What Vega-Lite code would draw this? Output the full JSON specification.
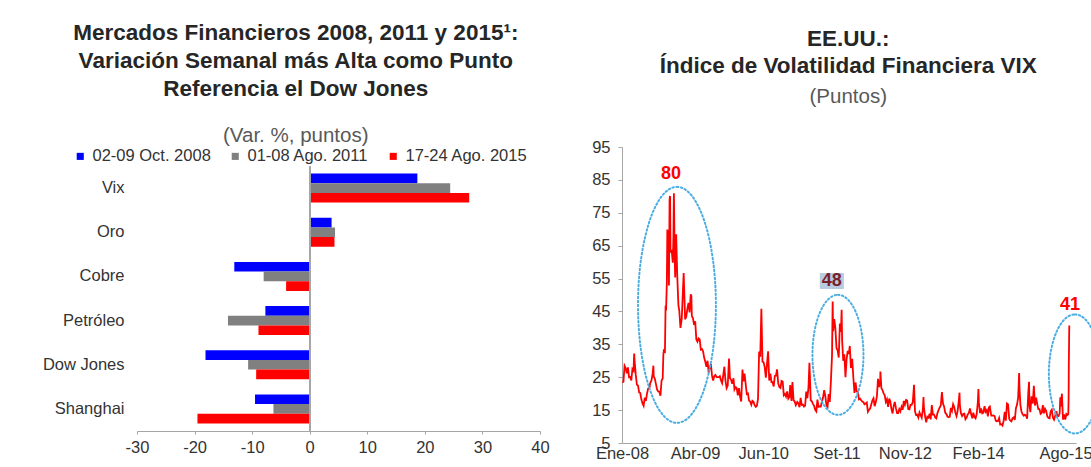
{
  "$schema": "https://vega.github.io/schema/vega-lite/v6.json",
  "background": "white",
  "padding": {"left": 42, "top": 22, "right": 0, "bottom": 0},
  "spacing": 41,
  "config": {
    "view": {"stroke": null},
    "font": "Liberation Sans",
    "axis": {"grid": false, "labelFont": "Liberation Sans", "labelFontSize": 16.5, "labelColor": "#333333", "domainColor": "#A6A6A6", "tickColor": "#A6A6A6", "title": null, "labelOverlap": false},
    "title": {"font": "Liberation Sans", "subtitleFont": "Liberation Sans"}
  },
  "datasets": {
    "barras": [
      {"mercado": "Vix", "periodo": "02-09 Oct. 2008", "valor": 18.7},
      {"mercado": "Vix", "periodo": "01-08 Ago. 2011", "valor": 24.4},
      {"mercado": "Vix", "periodo": "17-24 Ago. 2015", "valor": 27.7},
      {"mercado": "Oro", "periodo": "02-09 Oct. 2008", "valor": 3.8},
      {"mercado": "Oro", "periodo": "01-08 Ago. 2011", "valor": 4.4},
      {"mercado": "Oro", "periodo": "17-24 Ago. 2015", "valor": 4.3},
      {"mercado": "Cobre", "periodo": "02-09 Oct. 2008", "valor": -13.1},
      {"mercado": "Cobre", "periodo": "01-08 Ago. 2011", "valor": -8.0},
      {"mercado": "Cobre", "periodo": "17-24 Ago. 2015", "valor": -4.1},
      {"mercado": "Petróleo", "periodo": "02-09 Oct. 2008", "valor": -7.7},
      {"mercado": "Petróleo", "periodo": "01-08 Ago. 2011", "valor": -14.2},
      {"mercado": "Petróleo", "periodo": "17-24 Ago. 2015", "valor": -8.9},
      {"mercado": "Dow Jones", "periodo": "02-09 Oct. 2008", "valor": -18.1},
      {"mercado": "Dow Jones", "periodo": "01-08 Ago. 2011", "valor": -10.7},
      {"mercado": "Dow Jones", "periodo": "17-24 Ago. 2015", "valor": -9.3},
      {"mercado": "Shanghai", "periodo": "02-09 Oct. 2008", "valor": -9.5},
      {"mercado": "Shanghai", "periodo": "01-08 Ago. 2011", "valor": -6.3},
      {"mercado": "Shanghai", "periodo": "17-24 Ago. 2015", "valor": -19.5}
    ],
    "vix": [
      {"fecha": "2008-01-03", "vix": 23.4}, {"fecha": "2008-01-10", "vix": 23.6}, {"fecha": "2008-01-17", "vix": 28.5}, {"fecha": "2008-01-24", "vix": 27.8}, {"fecha": "2008-01-31", "vix": 26.2},
      {"fecha": "2008-02-07", "vix": 28.0}, {"fecha": "2008-02-14", "vix": 25.0}, {"fecha": "2008-02-21", "vix": 25.1}, {"fecha": "2008-02-28", "vix": 24.0},
      {"fecha": "2008-03-06", "vix": 27.5}, {"fecha": "2008-03-13", "vix": 27.0}, {"fecha": "2008-03-17", "vix": 32.2}, {"fecha": "2008-03-20", "vix": 29.8}, {"fecha": "2008-03-27", "vix": 25.7},
      {"fecha": "2008-04-03", "vix": 22.7}, {"fecha": "2008-04-10", "vix": 22.5}, {"fecha": "2008-04-17", "vix": 20.4}, {"fecha": "2008-04-24", "vix": 20.2},
      {"fecha": "2008-05-01", "vix": 18.2}, {"fecha": "2008-05-08", "vix": 17.0}, {"fecha": "2008-05-15", "vix": 16.3}, {"fecha": "2008-05-22", "vix": 18.8}, {"fecha": "2008-05-29", "vix": 17.8},
      {"fecha": "2008-06-05", "vix": 20.0}, {"fecha": "2008-06-12", "vix": 21.5}, {"fecha": "2008-06-19", "vix": 21.5}, {"fecha": "2008-06-26", "vix": 23.4},
      {"fecha": "2008-07-03", "vix": 24.0}, {"fecha": "2008-07-10", "vix": 26.0}, {"fecha": "2008-07-15", "vix": 28.5}, {"fecha": "2008-07-17", "vix": 25.3}, {"fecha": "2008-07-24", "vix": 24.5}, {"fecha": "2008-07-31", "vix": 22.9},
      {"fecha": "2008-08-07", "vix": 21.2}, {"fecha": "2008-08-14", "vix": 20.7}, {"fecha": "2008-08-21", "vix": 20.6}, {"fecha": "2008-08-28", "vix": 19.4},
      {"fecha": "2008-09-04", "vix": 24.0}, {"fecha": "2008-09-11", "vix": 24.6}, {"fecha": "2008-09-15", "vix": 31.7}, {"fecha": "2008-09-18", "vix": 33.1}, {"fecha": "2008-09-25", "vix": 32.8}, {"fecha": "2008-09-29", "vix": 46.7},
      {"fecha": "2008-10-02", "vix": 45.3}, {"fecha": "2008-10-07", "vix": 53.7}, {"fecha": "2008-10-10", "vix": 69.9}, {"fecha": "2008-10-16", "vix": 67.6}, {"fecha": "2008-10-20", "vix": 52.9}, {"fecha": "2008-10-24", "vix": 79.1}, {"fecha": "2008-10-27", "vix": 80.1}, {"fecha": "2008-10-30", "vix": 62.9},
      {"fecha": "2008-11-06", "vix": 63.7}, {"fecha": "2008-11-13", "vix": 59.8}, {"fecha": "2008-11-17", "vix": 67.6}, {"fecha": "2008-11-20", "vix": 80.9}, {"fecha": "2008-11-25", "vix": 60.9}, {"fecha": "2008-11-28", "vix": 55.3},
      {"fecha": "2008-12-04", "vix": 68.5}, {"fecha": "2008-12-11", "vix": 55.7}, {"fecha": "2008-12-18", "vix": 47.0}, {"fecha": "2008-12-24", "vix": 45.0}, {"fecha": "2008-12-31", "vix": 40.0},
      {"fecha": "2009-01-08", "vix": 42.8}, {"fecha": "2009-01-15", "vix": 51.0}, {"fecha": "2009-01-20", "vix": 56.7}, {"fecha": "2009-01-29", "vix": 42.6},
      {"fecha": "2009-02-05", "vix": 43.4}, {"fecha": "2009-02-12", "vix": 45.8}, {"fecha": "2009-02-19", "vix": 47.6}, {"fecha": "2009-02-26", "vix": 44.7},
      {"fecha": "2009-03-05", "vix": 50.2}, {"fecha": "2009-03-09", "vix": 49.7}, {"fecha": "2009-03-12", "vix": 43.6}, {"fecha": "2009-03-19", "vix": 42.9}, {"fecha": "2009-03-26", "vix": 40.9},
      {"fecha": "2009-04-02", "vix": 42.0}, {"fecha": "2009-04-09", "vix": 36.5}, {"fecha": "2009-04-16", "vix": 35.8}, {"fecha": "2009-04-23", "vix": 36.8}, {"fecha": "2009-04-30", "vix": 36.5},
      {"fecha": "2009-05-07", "vix": 33.4}, {"fecha": "2009-05-14", "vix": 33.6}, {"fecha": "2009-05-21", "vix": 32.9}, {"fecha": "2009-05-28", "vix": 30.9},
      {"fecha": "2009-06-04", "vix": 29.7}, {"fecha": "2009-06-11", "vix": 28.2}, {"fecha": "2009-06-18", "vix": 30.0}, {"fecha": "2009-06-25", "vix": 26.4},
      {"fecha": "2009-07-02", "vix": 27.9}, {"fecha": "2009-07-09", "vix": 29.0}, {"fecha": "2009-07-16", "vix": 25.4}, {"fecha": "2009-07-23", "vix": 24.0}, {"fecha": "2009-07-30", "vix": 25.4},
      {"fecha": "2009-08-06", "vix": 25.7}, {"fecha": "2009-08-13", "vix": 25.0}, {"fecha": "2009-08-20", "vix": 25.0}, {"fecha": "2009-08-27", "vix": 25.0},
      {"fecha": "2009-09-03", "vix": 25.3}, {"fecha": "2009-09-10", "vix": 24.0}, {"fecha": "2009-09-17", "vix": 23.2}, {"fecha": "2009-09-24", "vix": 25.6},
      {"fecha": "2009-10-01", "vix": 28.2}, {"fecha": "2009-10-08", "vix": 23.9}, {"fecha": "2009-10-15", "vix": 21.7}, {"fecha": "2009-10-22", "vix": 22.5}, {"fecha": "2009-10-30", "vix": 30.7},
      {"fecha": "2009-11-05", "vix": 24.7}, {"fecha": "2009-11-12", "vix": 24.2}, {"fecha": "2009-11-19", "vix": 23.0}, {"fecha": "2009-11-27", "vix": 24.7},
      {"fecha": "2009-12-03", "vix": 21.3}, {"fecha": "2009-12-10", "vix": 22.0}, {"fecha": "2009-12-17", "vix": 21.7}, {"fecha": "2009-12-24", "vix": 19.5}, {"fecha": "2009-12-31", "vix": 21.7},
      {"fecha": "2010-01-07", "vix": 19.1}, {"fecha": "2010-01-14", "vix": 17.6}, {"fecha": "2010-01-22", "vix": 27.3}, {"fecha": "2010-01-28", "vix": 23.7},
      {"fecha": "2010-02-04", "vix": 26.1}, {"fecha": "2010-02-11", "vix": 23.0}, {"fecha": "2010-02-18", "vix": 19.9}, {"fecha": "2010-02-25", "vix": 20.1},
      {"fecha": "2010-03-04", "vix": 17.9}, {"fecha": "2010-03-11", "vix": 17.6}, {"fecha": "2010-03-18", "vix": 16.6}, {"fecha": "2010-03-25", "vix": 17.8},
      {"fecha": "2010-04-01", "vix": 17.5}, {"fecha": "2010-04-08", "vix": 16.5}, {"fecha": "2010-04-15", "vix": 16.0}, {"fecha": "2010-04-22", "vix": 16.3}, {"fecha": "2010-04-29", "vix": 18.4},
      {"fecha": "2010-05-06", "vix": 32.8}, {"fecha": "2010-05-13", "vix": 31.2}, {"fecha": "2010-05-20", "vix": 45.8}, {"fecha": "2010-05-27", "vix": 29.7},
      {"fecha": "2010-06-03", "vix": 29.5}, {"fecha": "2010-06-10", "vix": 28.0}, {"fecha": "2010-06-17", "vix": 24.9}, {"fecha": "2010-06-24", "vix": 29.0},
      {"fecha": "2010-07-01", "vix": 32.9}, {"fecha": "2010-07-08", "vix": 24.0}, {"fecha": "2010-07-15", "vix": 26.1}, {"fecha": "2010-07-22", "vix": 23.5}, {"fecha": "2010-07-29", "vix": 23.5},
      {"fecha": "2010-08-05", "vix": 22.2}, {"fecha": "2010-08-12", "vix": 25.4}, {"fecha": "2010-08-19", "vix": 25.5}, {"fecha": "2010-08-26", "vix": 27.4},
      {"fecha": "2010-09-02", "vix": 23.2}, {"fecha": "2010-09-09", "vix": 22.0}, {"fecha": "2010-09-16", "vix": 21.7}, {"fecha": "2010-09-23", "vix": 23.9}, {"fecha": "2010-09-30", "vix": 23.7},
      {"fecha": "2010-10-07", "vix": 19.5}, {"fecha": "2010-10-14", "vix": 19.9}, {"fecha": "2010-10-21", "vix": 19.1}, {"fecha": "2010-10-28", "vix": 20.7},
      {"fecha": "2010-11-04", "vix": 18.5}, {"fecha": "2010-11-11", "vix": 19.0}, {"fecha": "2010-11-16", "vix": 22.6}, {"fecha": "2010-11-24", "vix": 17.8}, {"fecha": "2010-11-30", "vix": 23.5},
      {"fecha": "2010-12-07", "vix": 18.0}, {"fecha": "2010-12-14", "vix": 17.6}, {"fecha": "2010-12-21", "vix": 16.5}, {"fecha": "2010-12-30", "vix": 17.5},
      {"fecha": "2011-01-06", "vix": 17.1}, {"fecha": "2011-01-13", "vix": 15.9}, {"fecha": "2011-01-20", "vix": 18.7}, {"fecha": "2011-01-27", "vix": 16.6},
      {"fecha": "2011-02-03", "vix": 16.7}, {"fecha": "2011-02-10", "vix": 16.1}, {"fecha": "2011-02-17", "vix": 16.4}, {"fecha": "2011-02-24", "vix": 20.6},
      {"fecha": "2011-03-03", "vix": 18.6}, {"fecha": "2011-03-10", "vix": 21.9}, {"fecha": "2011-03-16", "vix": 29.4}, {"fecha": "2011-03-24", "vix": 18.0}, {"fecha": "2011-03-31", "vix": 17.7},
      {"fecha": "2011-04-07", "vix": 16.9}, {"fecha": "2011-04-14", "vix": 16.3}, {"fecha": "2011-04-21", "vix": 15.1}, {"fecha": "2011-04-28", "vix": 14.6},
      {"fecha": "2011-05-05", "vix": 18.2}, {"fecha": "2011-05-12", "vix": 16.0}, {"fecha": "2011-05-19", "vix": 16.1}, {"fecha": "2011-05-26", "vix": 16.1},
      {"fecha": "2011-06-02", "vix": 17.6}, {"fecha": "2011-06-09", "vix": 18.8}, {"fecha": "2011-06-16", "vix": 21.1}, {"fecha": "2011-06-23", "vix": 19.3}, {"fecha": "2011-06-30", "vix": 16.5},
      {"fecha": "2011-07-07", "vix": 15.9}, {"fecha": "2011-07-14", "vix": 19.9}, {"fecha": "2011-07-21", "vix": 17.5}, {"fecha": "2011-07-28", "vix": 23.7},
      {"fecha": "2011-08-04", "vix": 31.7}, {"fecha": "2011-08-08", "vix": 48.0}, {"fecha": "2011-08-11", "vix": 39.0}, {"fecha": "2011-08-18", "vix": 42.7}, {"fecha": "2011-08-25", "vix": 39.8},
      {"fecha": "2011-09-01", "vix": 33.9}, {"fecha": "2011-09-08", "vix": 33.2}, {"fecha": "2011-09-15", "vix": 31.0}, {"fecha": "2011-09-22", "vix": 41.3}, {"fecha": "2011-09-29", "vix": 38.8},
      {"fecha": "2011-10-03", "vix": 45.5}, {"fecha": "2011-10-06", "vix": 36.3}, {"fecha": "2011-10-13", "vix": 30.0}, {"fecha": "2011-10-20", "vix": 32.0}, {"fecha": "2011-10-27", "vix": 25.0},
      {"fecha": "2011-11-03", "vix": 30.5}, {"fecha": "2011-11-10", "vix": 33.0}, {"fecha": "2011-11-17", "vix": 32.1}, {"fecha": "2011-11-23", "vix": 34.5}, {"fecha": "2011-11-30", "vix": 27.8},
      {"fecha": "2011-12-08", "vix": 30.6}, {"fecha": "2011-12-15", "vix": 25.0}, {"fecha": "2011-12-22", "vix": 20.2}, {"fecha": "2011-12-29", "vix": 23.4},
      {"fecha": "2012-01-05", "vix": 20.7}, {"fecha": "2012-01-12", "vix": 20.5}, {"fecha": "2012-01-19", "vix": 18.3}, {"fecha": "2012-01-26", "vix": 18.5},
      {"fecha": "2012-02-02", "vix": 18.0}, {"fecha": "2012-02-09", "vix": 17.6}, {"fecha": "2012-02-16", "vix": 17.4}, {"fecha": "2012-02-23", "vix": 16.8},
      {"fecha": "2012-03-01", "vix": 17.0}, {"fecha": "2012-03-08", "vix": 17.3}, {"fecha": "2012-03-15", "vix": 14.5}, {"fecha": "2012-03-22", "vix": 15.1}, {"fecha": "2012-03-29", "vix": 15.5},
      {"fecha": "2012-04-05", "vix": 16.7}, {"fecha": "2012-04-12", "vix": 18.0}, {"fecha": "2012-04-19", "vix": 18.6}, {"fecha": "2012-04-26", "vix": 16.2},
      {"fecha": "2012-05-03", "vix": 17.4}, {"fecha": "2012-05-10", "vix": 19.1}, {"fecha": "2012-05-17", "vix": 24.5}, {"fecha": "2012-05-24", "vix": 22.0}, {"fecha": "2012-05-31", "vix": 24.1},
      {"fecha": "2012-06-01", "vix": 26.7}, {"fecha": "2012-06-07", "vix": 21.7}, {"fecha": "2012-06-14", "vix": 21.1}, {"fecha": "2012-06-21", "vix": 20.1}, {"fecha": "2012-06-28", "vix": 19.5},
      {"fecha": "2012-07-05", "vix": 17.5}, {"fecha": "2012-07-12", "vix": 18.3}, {"fecha": "2012-07-19", "vix": 16.0}, {"fecha": "2012-07-26", "vix": 18.5},
      {"fecha": "2012-08-02", "vix": 17.6}, {"fecha": "2012-08-09", "vix": 15.3}, {"fecha": "2012-08-16", "vix": 14.0}, {"fecha": "2012-08-23", "vix": 16.3}, {"fecha": "2012-08-30", "vix": 17.5},
      {"fecha": "2012-09-06", "vix": 15.6}, {"fecha": "2012-09-13", "vix": 14.1}, {"fecha": "2012-09-20", "vix": 14.1}, {"fecha": "2012-09-27", "vix": 15.3},
      {"fecha": "2012-10-04", "vix": 14.6}, {"fecha": "2012-10-11", "vix": 16.0}, {"fecha": "2012-10-18", "vix": 15.1}, {"fecha": "2012-10-25", "vix": 17.8},
      {"fecha": "2012-11-01", "vix": 16.7}, {"fecha": "2012-11-08", "vix": 18.1}, {"fecha": "2012-11-15", "vix": 17.9}, {"fecha": "2012-11-22", "vix": 15.3}, {"fecha": "2012-11-29", "vix": 15.2},
      {"fecha": "2012-12-06", "vix": 16.6}, {"fecha": "2012-12-13", "vix": 16.6}, {"fecha": "2012-12-20", "vix": 17.4}, {"fecha": "2012-12-28", "vix": 22.7},
      {"fecha": "2013-01-03", "vix": 14.6}, {"fecha": "2013-01-10", "vix": 13.5}, {"fecha": "2013-01-17", "vix": 13.6}, {"fecha": "2013-01-24", "vix": 12.7}, {"fecha": "2013-01-31", "vix": 14.3},
      {"fecha": "2013-02-07", "vix": 13.5}, {"fecha": "2013-02-14", "vix": 12.7}, {"fecha": "2013-02-21", "vix": 15.2}, {"fecha": "2013-02-25", "vix": 19.0}, {"fecha": "2013-02-28", "vix": 15.5},
      {"fecha": "2013-03-07", "vix": 13.1}, {"fecha": "2013-03-14", "vix": 11.3}, {"fecha": "2013-03-21", "vix": 13.0}, {"fecha": "2013-03-28", "vix": 12.7},
      {"fecha": "2013-04-04", "vix": 13.9}, {"fecha": "2013-04-11", "vix": 12.2}, {"fecha": "2013-04-18", "vix": 16.5}, {"fecha": "2013-04-25", "vix": 13.6},
      {"fecha": "2013-05-02", "vix": 13.6}, {"fecha": "2013-05-09", "vix": 12.8}, {"fecha": "2013-05-16", "vix": 12.5}, {"fecha": "2013-05-23", "vix": 14.1}, {"fecha": "2013-05-30", "vix": 15.0},
      {"fecha": "2013-06-06", "vix": 15.8}, {"fecha": "2013-06-13", "vix": 16.4}, {"fecha": "2013-06-20", "vix": 20.5}, {"fecha": "2013-06-27", "vix": 16.9},
      {"fecha": "2013-07-03", "vix": 16.2}, {"fecha": "2013-07-11", "vix": 14.2}, {"fecha": "2013-07-18", "vix": 13.8}, {"fecha": "2013-07-25", "vix": 13.0},
      {"fecha": "2013-08-01", "vix": 12.9}, {"fecha": "2013-08-08", "vix": 13.0}, {"fecha": "2013-08-15", "vix": 15.7}, {"fecha": "2013-08-22", "vix": 14.8}, {"fecha": "2013-08-29", "vix": 16.8},
      {"fecha": "2013-09-05", "vix": 15.9}, {"fecha": "2013-09-12", "vix": 14.3}, {"fecha": "2013-09-19", "vix": 13.2}, {"fecha": "2013-09-26", "vix": 14.7},
      {"fecha": "2013-10-03", "vix": 17.7}, {"fecha": "2013-10-08", "vix": 20.3}, {"fecha": "2013-10-10", "vix": 16.5}, {"fecha": "2013-10-17", "vix": 14.0}, {"fecha": "2013-10-24", "vix": 13.2}, {"fecha": "2013-10-31", "vix": 13.8},
      {"fecha": "2013-11-07", "vix": 13.9}, {"fecha": "2013-11-14", "vix": 12.2}, {"fecha": "2013-11-21", "vix": 12.7}, {"fecha": "2013-11-28", "vix": 13.7},
      {"fecha": "2013-12-05", "vix": 14.1}, {"fecha": "2013-12-12", "vix": 15.5}, {"fecha": "2013-12-19", "vix": 13.8}, {"fecha": "2013-12-27", "vix": 12.5},
      {"fecha": "2014-01-02", "vix": 14.2}, {"fecha": "2014-01-09", "vix": 12.9}, {"fecha": "2014-01-16", "vix": 12.5}, {"fecha": "2014-01-23", "vix": 13.8}, {"fecha": "2014-01-30", "vix": 17.3},
      {"fecha": "2014-02-03", "vix": 21.4}, {"fecha": "2014-02-06", "vix": 17.2}, {"fecha": "2014-02-13", "vix": 14.1}, {"fecha": "2014-02-20", "vix": 15.5}, {"fecha": "2014-02-27", "vix": 14.0},
      {"fecha": "2014-03-06", "vix": 14.2}, {"fecha": "2014-03-13", "vix": 16.2}, {"fecha": "2014-03-20", "vix": 14.5}, {"fecha": "2014-03-27", "vix": 15.0},
      {"fecha": "2014-04-03", "vix": 13.1}, {"fecha": "2014-04-10", "vix": 15.9}, {"fecha": "2014-04-15", "vix": 16.1}, {"fecha": "2014-04-24", "vix": 13.3},
      {"fecha": "2014-05-01", "vix": 13.3}, {"fecha": "2014-05-08", "vix": 13.4}, {"fecha": "2014-05-15", "vix": 13.2}, {"fecha": "2014-05-22", "vix": 11.8}, {"fecha": "2014-05-29", "vix": 11.6},
      {"fecha": "2014-06-05", "vix": 11.7}, {"fecha": "2014-06-12", "vix": 12.6}, {"fecha": "2014-06-19", "vix": 10.6}, {"fecha": "2014-06-26", "vix": 10.7},
      {"fecha": "2014-07-03", "vix": 10.3}, {"fecha": "2014-07-10", "vix": 11.7}, {"fecha": "2014-07-17", "vix": 14.5}, {"fecha": "2014-07-24", "vix": 11.8}, {"fecha": "2014-07-31", "vix": 17.0},
      {"fecha": "2014-08-07", "vix": 16.7}, {"fecha": "2014-08-14", "vix": 12.4}, {"fecha": "2014-08-21", "vix": 11.8}, {"fecha": "2014-08-28", "vix": 11.6},
      {"fecha": "2014-09-04", "vix": 12.6}, {"fecha": "2014-09-11", "vix": 12.8}, {"fecha": "2014-09-18", "vix": 12.0}, {"fecha": "2014-09-25", "vix": 15.6},
      {"fecha": "2014-10-02", "vix": 16.7}, {"fecha": "2014-10-09", "vix": 18.8}, {"fecha": "2014-10-15", "vix": 26.3}, {"fecha": "2014-10-17", "vix": 22.0}, {"fecha": "2014-10-23", "vix": 16.5}, {"fecha": "2014-10-30", "vix": 14.5},
      {"fecha": "2014-11-06", "vix": 13.7}, {"fecha": "2014-11-13", "vix": 13.3}, {"fecha": "2014-11-20", "vix": 13.6}, {"fecha": "2014-11-28", "vix": 13.3},
      {"fecha": "2014-12-04", "vix": 12.4}, {"fecha": "2014-12-11", "vix": 20.1}, {"fecha": "2014-12-16", "vix": 23.6}, {"fecha": "2014-12-18", "vix": 16.8}, {"fecha": "2014-12-24", "vix": 14.4}, {"fecha": "2014-12-31", "vix": 19.2},
      {"fecha": "2015-01-08", "vix": 17.0}, {"fecha": "2015-01-15", "vix": 22.4}, {"fecha": "2015-01-22", "vix": 16.4}, {"fecha": "2015-01-29", "vix": 18.8},
      {"fecha": "2015-02-05", "vix": 16.9}, {"fecha": "2015-02-12", "vix": 15.3}, {"fecha": "2015-02-19", "vix": 15.3}, {"fecha": "2015-02-26", "vix": 13.9},
      {"fecha": "2015-03-05", "vix": 14.2}, {"fecha": "2015-03-12", "vix": 16.5}, {"fecha": "2015-03-19", "vix": 14.0}, {"fecha": "2015-03-26", "vix": 15.4},
      {"fecha": "2015-04-02", "vix": 14.7}, {"fecha": "2015-04-09", "vix": 13.1}, {"fecha": "2015-04-16", "vix": 12.6}, {"fecha": "2015-04-23", "vix": 12.5}, {"fecha": "2015-04-30", "vix": 14.6},
      {"fecha": "2015-05-07", "vix": 15.1}, {"fecha": "2015-05-14", "vix": 12.7}, {"fecha": "2015-05-21", "vix": 12.1}, {"fecha": "2015-05-28", "vix": 13.3},
      {"fecha": "2015-06-04", "vix": 14.7}, {"fecha": "2015-06-11", "vix": 13.2}, {"fecha": "2015-06-18", "vix": 13.2}, {"fecha": "2015-06-25", "vix": 14.0}, {"fecha": "2015-06-29", "vix": 18.9},
      {"fecha": "2015-07-02", "vix": 16.1}, {"fecha": "2015-07-09", "vix": 20.0}, {"fecha": "2015-07-16", "vix": 12.1}, {"fecha": "2015-07-23", "vix": 13.7}, {"fecha": "2015-07-30", "vix": 12.1},
      {"fecha": "2015-08-06", "vix": 13.8}, {"fecha": "2015-08-13", "vix": 13.5}, {"fecha": "2015-08-18", "vix": 13.8}, {"fecha": "2015-08-20", "vix": 19.1}, {"fecha": "2015-08-21", "vix": 28.0}, {"fecha": "2015-08-24", "vix": 40.7}
    ],
    "notas": [
      {"id": "e1", "fecha": "2008-12-09", "vix": 47.0},
      {"id": "e2", "fecha": "2011-09-10", "vix": 31.8},
      {"id": "e3", "fecha": "2015-09-28", "vix": 26.0},
      {"id": "t80", "fecha": "2008-11-02", "vix": 86.8, "texto": "80"},
      {"id": "t48", "fecha": "2011-08-03", "vix": 54.3, "texto": "48"},
      {"id": "t41", "fecha": "2015-08-28", "vix": 47.0, "texto": "41"},
      {"id": "b48", "fecha": "2011-05-20", "fecha2": "2011-10-17", "vix": 56.7, "vix2": 51.8}
    ]
  },
  "hconcat": [
    {
      "width": 403,
      "height": 284,
      "title": {
        "text": ["Mercados Financieros 2008, 2011 y 2015¹:", "Variación Semanal más Alta como Punto", "Referencia el Dow Jones"],
        "subtitle": "(Var. %, puntos)",
        "fontSize": 22.5,
        "fontWeight": "bold",
        "color": "#262626",
        "lineHeight": 28,
        "subtitleFontSize": 20.5,
        "subtitleColor": "#595959",
        "subtitlePadding": 25,
        "anchor": "middle",
        "frame": "bounds",
        "offset": 1
      },
      "data": {"name": "barras"},
      "layer": [
        {
          "mark": {"type": "bar"},
          "encoding": {
            "y": {
              "field": "mercado", "type": "nominal",
              "sort": ["Vix", "Oro", "Cobre", "Petróleo", "Dow Jones", "Shanghai"],
              "scale": {"paddingInner": 0.344, "paddingOuter": 0.172, "range": [19, 284]},
              "axis": {"domain": false, "ticks": false, "labelPadding": 13}
            },
            "yOffset": {"field": "periodo", "type": "nominal", "sort": ["02-09 Oct. 2008", "01-08 Ago. 2011", "17-24 Ago. 2015"]},
            "x": {
              "field": "valor", "type": "quantitative",
              "scale": {"domain": [-30, 40], "nice": false},
              "axis": {
                "values": [-30, -20, -10, 0, 10, 20, 30, 40], "tickCount": 10,
                "labelExpr": "datum.value < 0 ? '-' + abs(datum.value) : '' + datum.value",
                "tickSize": 3, "labelPadding": 5, "labelFlush": false, "labelOverlap": false
              }
            },
            "color": {
              "field": "periodo", "type": "nominal",
              "scale": {"domain": ["02-09 Oct. 2008", "01-08 Ago. 2011", "17-24 Ago. 2015"], "range": ["#0000FF", "#808080", "#FF0000"]},
              "legend": {
                "orient": "none", "legendX": -65, "legendY": 1, "direction": "horizontal", "columns": 3,
                "title": null, "symbolType": "square", "symbolSize": 50, "symbolStrokeWidth": 0,
                "labelFontSize": 16.5, "labelColor": "#333333", "labelFont": "Liberation Sans",
                "columnPadding": 16, "gridAlign": "each", "labelOffset": 4, "padding": 0
              }
            }
          }
        },
        {
          "mark": {"type": "rule", "color": "#A6A6A6", "strokeWidth": 1},
          "encoding": {
            "x": {"datum": 0, "type": "quantitative"},
            "y": {"datum": "Vix", "type": "nominal", "bandPosition": -0.25},
            "y2": {"datum": "Shanghai", "bandPosition": 1.25}
          }
        }
      ]
    },
    {
      "width": 454,
      "height": 296,
      "title": {
        "text": ["EE.UU.:", "Índice de Volatilidad Financiera VIX"],
        "subtitle": "(Puntos)",
        "fontSize": 22.5,
        "fontWeight": "bold",
        "color": "#262626",
        "lineHeight": 27,
        "subtitleFontSize": 20.5,
        "subtitleColor": "#595959",
        "subtitlePadding": 9,
        "anchor": "middle",
        "frame": "bounds",
        "offset": 32
      },
      "layer": [
        {
          "data": {"name": "vix"},
          "mark": {"type": "line", "color": "#FF0000", "strokeWidth": 1.8},
          "encoding": {
            "x": {
              "field": "fecha", "type": "temporal",
              "scale": {"domain": [{"year": 2008, "month": 1, "date": 1}, {"year": 2015, "month": 10, "date": 5}]},
              "axis": {
                "values": [{"year": 2008, "month": 1, "date": 1}, {"year": 2009, "month": 4, "date": 1}, {"year": 2010, "month": 6, "date": 1}, {"year": 2011, "month": 9, "date": 1}, {"year": 2012, "month": 11, "date": 1}, {"year": 2014, "month": 2, "date": 1}, {"year": 2015, "month": 8, "date": 1}],
                "tickCount": 10,
                "labelExpr": "['Ene','Feb','Mar','Abr','May','Jun','Jul','Ago','Set','Oct','Nov','Dic'][month(datum.value)] + '-' + timeFormat(datum.value, '%y')",
                "ticks": false, "labelPadding": 2, "labelFlush": false, "labelOverlap": false
              }
            },
            "y": {
              "field": "vix", "type": "quantitative",
              "scale": {"domain": [5, 95], "nice": false, "zero": false},
              "axis": {"values": [5, 15, 25, 35, 45, 55, 65, 75, 85, 95], "tickCount": 12, "tickSize": 4, "labelPadding": 8, "labelOverlap": false}
            }
          }
        },
        {
          "mark": {"type": "rule", "color": "#4BAEE3", "strokeWidth": 1.5, "strokeDash": [2, 3]},
          "encoding": {"y": {"datum": 20, "type": "quantitative"}}
        },
        {
          "data": {"name": "notas"},
          "transform": [{"filter": "datum.id === 'e1'"}],
          "mark": {"type": "point", "shape": "M0,-1C0.182,-1 0.33,-0.552 0.33,0C0.33,0.552 0.182,1 0,1C-0.182,1 -0.33,0.552 -0.33,0C-0.33,-0.552 -0.182,-1 0,-1Z", "size": 55696, "filled": false, "color": "#4BAEE3", "strokeWidth": 2, "strokeDash": [1.5, 2.5], "strokeCap": "round", "opacity": 1},
          "encoding": {"x": {"field": "fecha", "type": "temporal"}, "y": {"field": "vix", "type": "quantitative"}}
        },
        {
          "data": {"name": "notas"},
          "transform": [{"filter": "datum.id === 'e2'"}],
          "mark": {"type": "point", "shape": "M0,-1C0.235,-1 0.425,-0.552 0.425,0C0.425,0.552 0.235,1 0,1C-0.235,1 -0.425,0.552 -0.425,0C-0.425,-0.552 -0.235,-1 0,-1Z", "size": 14400, "filled": false, "color": "#4BAEE3", "strokeWidth": 2, "strokeDash": [1.5, 2.5], "strokeCap": "round", "opacity": 1},
          "encoding": {"x": {"field": "fecha", "type": "temporal"}, "y": {"field": "vix", "type": "quantitative"}}
        },
        {
          "data": {"name": "notas"},
          "transform": [{"filter": "datum.id === 'e3'"}],
          "mark": {"type": "point", "shape": "M0,-1C0.241,-1 0.437,-0.552 0.437,0C0.437,0.552 0.241,1 0,1C-0.241,1 -0.437,0.552 -0.437,0C-0.437,-0.552 -0.241,-1 0,-1Z", "size": 14161, "filled": false, "color": "#4BAEE3", "strokeWidth": 2, "strokeDash": [1.5, 2.5], "strokeCap": "round", "opacity": 1},
          "encoding": {"x": {"field": "fecha", "type": "temporal"}, "y": {"field": "vix", "type": "quantitative"}}
        },
        {
          "data": {"name": "notas"},
          "transform": [{"filter": "datum.id === 'b48'"}],
          "mark": {"type": "rect", "color": "#B9CBE0"},
          "encoding": {
            "x": {"field": "fecha", "type": "temporal"}, "x2": {"field": "fecha2"},
            "y": {"field": "vix", "type": "quantitative"}, "y2": {"field": "vix2"}
          }
        },
        {
          "data": {"name": "notas"},
          "transform": [{"filter": "datum.id === 't80' || datum.id === 't41'"}],
          "mark": {"type": "text", "color": "#FF0000", "fontSize": 18, "fontWeight": "bold", "baseline": "middle", "align": "center"},
          "encoding": {"x": {"field": "fecha", "type": "temporal"}, "y": {"field": "vix", "type": "quantitative"}, "text": {"field": "texto"}}
        },
        {
          "data": {"name": "notas"},
          "transform": [{"filter": "datum.id === 't48'"}],
          "mark": {"type": "text", "color": "#7A1E2C", "fontSize": 18, "fontWeight": "bold", "baseline": "middle", "align": "center"},
          "encoding": {"x": {"field": "fecha", "type": "temporal"}, "y": {"field": "vix", "type": "quantitative"}, "text": {"field": "texto"}}
        }
      ]
    }
  ]
}
